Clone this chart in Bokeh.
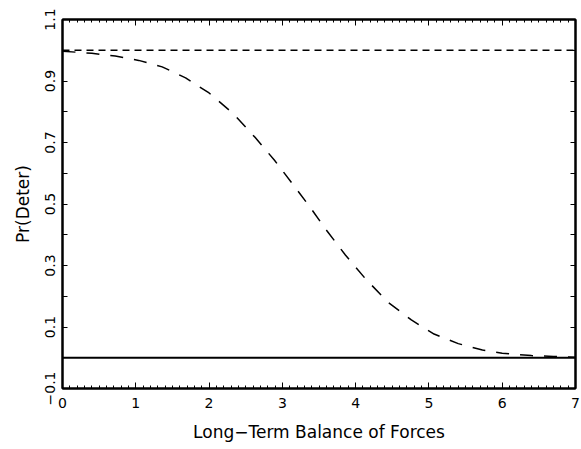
from bokeh.plotting import figure
from bokeh.models import Range1d, FixedTicker, LinearAxis, Span
from bokeh.embed import file_html
from bokeh.resources import INLINE

# ---- data ----
balance = [0.0, 0.4, 0.72, 1.04, 1.36, 1.68, 2.0, 2.33, 2.63, 2.89, 3.14, 3.38,
           3.61, 3.86, 4.13, 4.44, 4.76, 5.07, 5.4, 5.73, 6.0, 6.4, 6.7, 7.0]
pr_deter = [0.997, 0.990, 0.981, 0.967, 0.946, 0.910, 0.861, 0.794, 0.716, 0.643,
            0.565, 0.489, 0.412, 0.334, 0.258, 0.181, 0.123, 0.077, 0.046, 0.025,
            0.015, 0.007, 0.004, 0.002]
upper_bound = 1.0
lower_bound = 0.0

x_major = [0, 1, 2, 3, 4, 5, 6, 7]
x_minor = [i / 10 for i in range(0, 71) if i % 10 != 0]
y_major = [-0.1, 0.1, 0.3, 0.5, 0.7, 0.9, 1.1]
y_minor = [0.0, 0.2, 0.4, 0.6, 0.8, 1.0]

FONT = "DejaVu Sans"

p = figure(width=581, height=449, x_range=Range1d(0, 7), y_range=Range1d(-0.1, 1.1),
           output_backend="svg", toolbar_location=None,
           min_border_left=62, min_border_right=6, min_border_top=19, min_border_bottom=61,
           x_axis_label="Long\u2212Term Balance of Forces", y_axis_label="Pr(Deter)")
p.grid.visible = False
p.outline_line_color = "black"
p.outline_line_width = 2
p.background_fill_color = "white"
p.border_fill_color = "white"

# curve and reference lines
p.line(balance, pr_deter, line_color="black", line_width=1.5, line_dash="13 11")
p.add_layout(Span(location=upper_bound, dimension="width", line_color="black",
                  line_width=1.5, line_dash="7 5"))
p.add_layout(Span(location=lower_bound, dimension="width", line_color="black",
                  line_width=2))

def style(ax, ticker, maj, mnr, labels=True):
    ax.ticker = ticker
    ax.axis_line_width = 2
    ax.axis_line_color = "black"
    ax.major_tick_in = maj
    ax.major_tick_out = 0
    ax.minor_tick_in = mnr
    ax.minor_tick_out = 0
    ax.major_tick_line_color = "black"
    ax.minor_tick_line_color = "black"
    ax.major_tick_line_width = 1
    ax.minor_tick_line_width = 1
    if labels:
        ax.major_label_text_font = FONT
        ax.major_label_text_font_size = "14px"
        ax.major_label_text_color = "black"
        ax.axis_label_text_font = FONT
        ax.axis_label_text_font_size = "17px"
        ax.axis_label_text_font_style = "normal"
        ax.axis_label_text_color = "black"
    else:
        ax.major_label_text_color = None
        ax.major_label_text_font_size = "1px"
        ax.major_label_standoff = 0

xa = p.xaxis[0]
style(xa, FixedTicker(ticks=x_major, minor_ticks=x_minor), 6, 3)
xa.major_label_standoff = 9
xa.axis_label_standoff = 11

ya = p.yaxis[0]
style(ya, FixedTicker(ticks=y_major, minor_ticks=y_minor), 5, 5)
ya.major_label_orientation = "vertical"
ya.major_label_standoff = 8
ya.axis_label_standoff = 9

top = LinearAxis()
style(top, FixedTicker(ticks=x_major, minor_ticks=x_minor), 6, 3, labels=False)
p.add_layout(top, "above")
right = LinearAxis()
style(right, FixedTicker(ticks=y_major, minor_ticks=y_minor), 5, 5, labels=False)
p.add_layout(right, "right")

open("out.html", "w").write(file_html(p, INLINE))
